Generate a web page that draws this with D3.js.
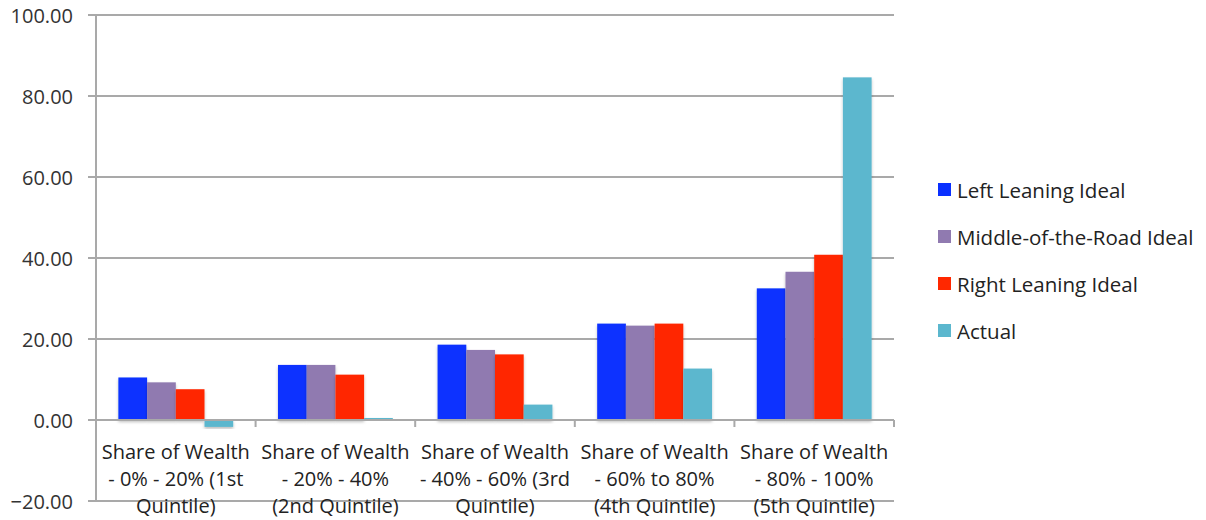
<!DOCTYPE html>
<html>
<head>
<meta charset="utf-8">
<script src="https://cdn.jsdelivr.net/npm/d3@7"></script>
<style>
  html, body { margin: 0; padding: 0; background: #fff; }
  svg { display: block; }
  text { font-family: "Open Sans", Lato, sans-serif; }
</style>
</head>
<body>
<svg id="chart" width="1206" height="520"></svg>
<script>
// Wealth share by quintile: three ideal distributions vs. the actual one
const categories = [
  "Share of Wealth - 0% - 20% (1st Quintile)",
  "Share of Wealth - 20% - 40% (2nd Quintile)",
  "Share of Wealth - 40% - 60% (3rd Quintile)",
  "Share of Wealth - 60% to 80% (4th Quintile)",
  "Share of Wealth - 80% - 100% (5th Quintile)"
];
const categoryLines = [
  ["Share of Wealth", "- 0% - 20% (1st", "Quintile)"],
  ["Share of Wealth", "- 20% - 40%", "(2nd Quintile)"],
  ["Share of Wealth", "- 40% - 60% (3rd", "Quintile)"],
  ["Share of Wealth", "- 60% to 80%", "(4th Quintile)"],
  ["Share of Wealth", "- 80% - 100%", "(5th Quintile)"]
];
const seriesNames = ["Left Leaning Ideal", "Middle-of-the-Road Ideal", "Right Leaning Ideal", "Actual"];
const leftLeaning   = [10.5, 13.6, 18.6, 23.8, 32.5];
const middleOfRoad  = [9.3, 13.6, 17.3, 23.3, 36.6];
const rightLeaning  = [7.6, 11.2, 16.2, 23.8, 40.8];
const actual        = [-1.7, 0.5, 3.8, 12.7, 84.6];
const yTicks = [-20, 0, 20, 40, 60, 80, 100];
const colors = ["#0a30ff", "#907ab0", "#ff2800", "#5bb7ce"];

const seriesValues = [leftLeaning, middleOfRoad, rightLeaning, actual];
const rows = categories.map((c, i) => ({
  category: c,
  lines: categoryLines[i],
  values: seriesNames.map((s, j) => ({ series: s, value: seriesValues[j][i] }))
}));

const svg = d3.select("#chart");
const plot = { left: 96, right: 894, top: 15, bottom: 501 };

const y = d3.scaleLinear().domain([-20, 100]).range([plot.bottom, plot.top]);
const x0 = d3.scaleBand().domain(categories).range([plot.left, plot.right]).padding(0);
const x1 = d3.scaleBand().domain(seriesNames).range([0, x0.bandwidth()])
  .paddingInner(0).paddingOuter(0.78);
const color = d3.scaleOrdinal().domain(seriesNames).range(colors);

const gridColor = "#a9a9a9";

// soft shadow under the bars
const defs = svg.append("defs");
const f = defs.append("filter").attr("id", "barShadow")
  .attr("x", "-20%").attr("y", "-20%").attr("width", "140%").attr("height", "140%");
f.append("feDropShadow").attr("dx", 0).attr("dy", 2).attr("stdDeviation", 1.5)
  .attr("flood-color", "#000").attr("flood-opacity", 0.25);

// horizontal gridlines (with the short left tick marks)
svg.append("g").selectAll("line").data(yTicks).join("line")
  .attr("x1", plot.left - 8).attr("x2", plot.right)
  .attr("y1", d => y(d)).attr("y2", d => y(d))
  .attr("stroke", gridColor).attr("stroke-width", 2);

// vertical value axis
svg.append("line")
  .attr("x1", plot.left).attr("x2", plot.left)
  .attr("y1", plot.top).attr("y2", plot.bottom)
  .attr("stroke", gridColor).attr("stroke-width", 2);

// value axis labels
svg.append("g").selectAll("text").data(yTicks).join("text")
  .attr("x", 73).attr("y", d => y(d) + 3)
  .attr("text-anchor", "end").attr("dominant-baseline", "middle")
  .attr("font-size", 20).attr("fill", "#333")
  .text(d3.format(".2f"));

// bars
const groups = svg.append("g").selectAll("g").data(rows).join("g")
  .attr("transform", d => `translate(${x0(d.category)},0)`);
groups.selectAll("rect").data(d => d.values).join("rect")
  .attr("x", d => x1(d.series))
  .attr("width", x1.bandwidth())
  .attr("y", d => y(Math.max(0, d.value)))
  .attr("height", d => Math.abs(y(d.value) - y(0)))
  .attr("fill", d => color(d.series))
  .attr("filter", "url(#barShadow)");

// category axis at zero with tick marks between categories
svg.append("line")
  .attr("x1", plot.left).attr("x2", plot.right)
  .attr("y1", y(0)).attr("y2", y(0))
  .attr("stroke", gridColor).attr("stroke-width", 2);
const boundaries = categories.map(c => x0(c)).concat([plot.right]);
svg.append("g").selectAll("line").data(boundaries).join("line")
  .attr("x1", d => d).attr("x2", d => d)
  .attr("y1", y(0)).attr("y2", y(0) + 7)
  .attr("stroke", gridColor).attr("stroke-width", 2);

// category labels, three lines each
const labels = svg.append("g").selectAll("text").data(rows).join("text")
  .attr("text-anchor", "middle").attr("font-size", 20).attr("fill", "#222")
  .attr("transform", d => `translate(${x0(d.category) + x0.bandwidth() / 2},0)`);
labels.selectAll("tspan").data(d => d.lines).join("tspan")
  .attr("x", 0).attr("y", (d, i) => 459 + i * 27)
  .text(d => d);

// legend
const legend = svg.append("g").selectAll("g").data(seriesNames).join("g")
  .attr("transform", (d, i) => `translate(938,${198 + i * 47})`);
legend.append("rect")
  .attr("x", 0).attr("y", -15).attr("width", 13).attr("height", 13)
  .attr("fill", d => color(d));
legend.append("text")
  .attr("x", 19).attr("y", 0)
  .attr("font-size", 20.5).attr("fill", "#222")
  .text(d => d);
</script>
</body>
</html>
